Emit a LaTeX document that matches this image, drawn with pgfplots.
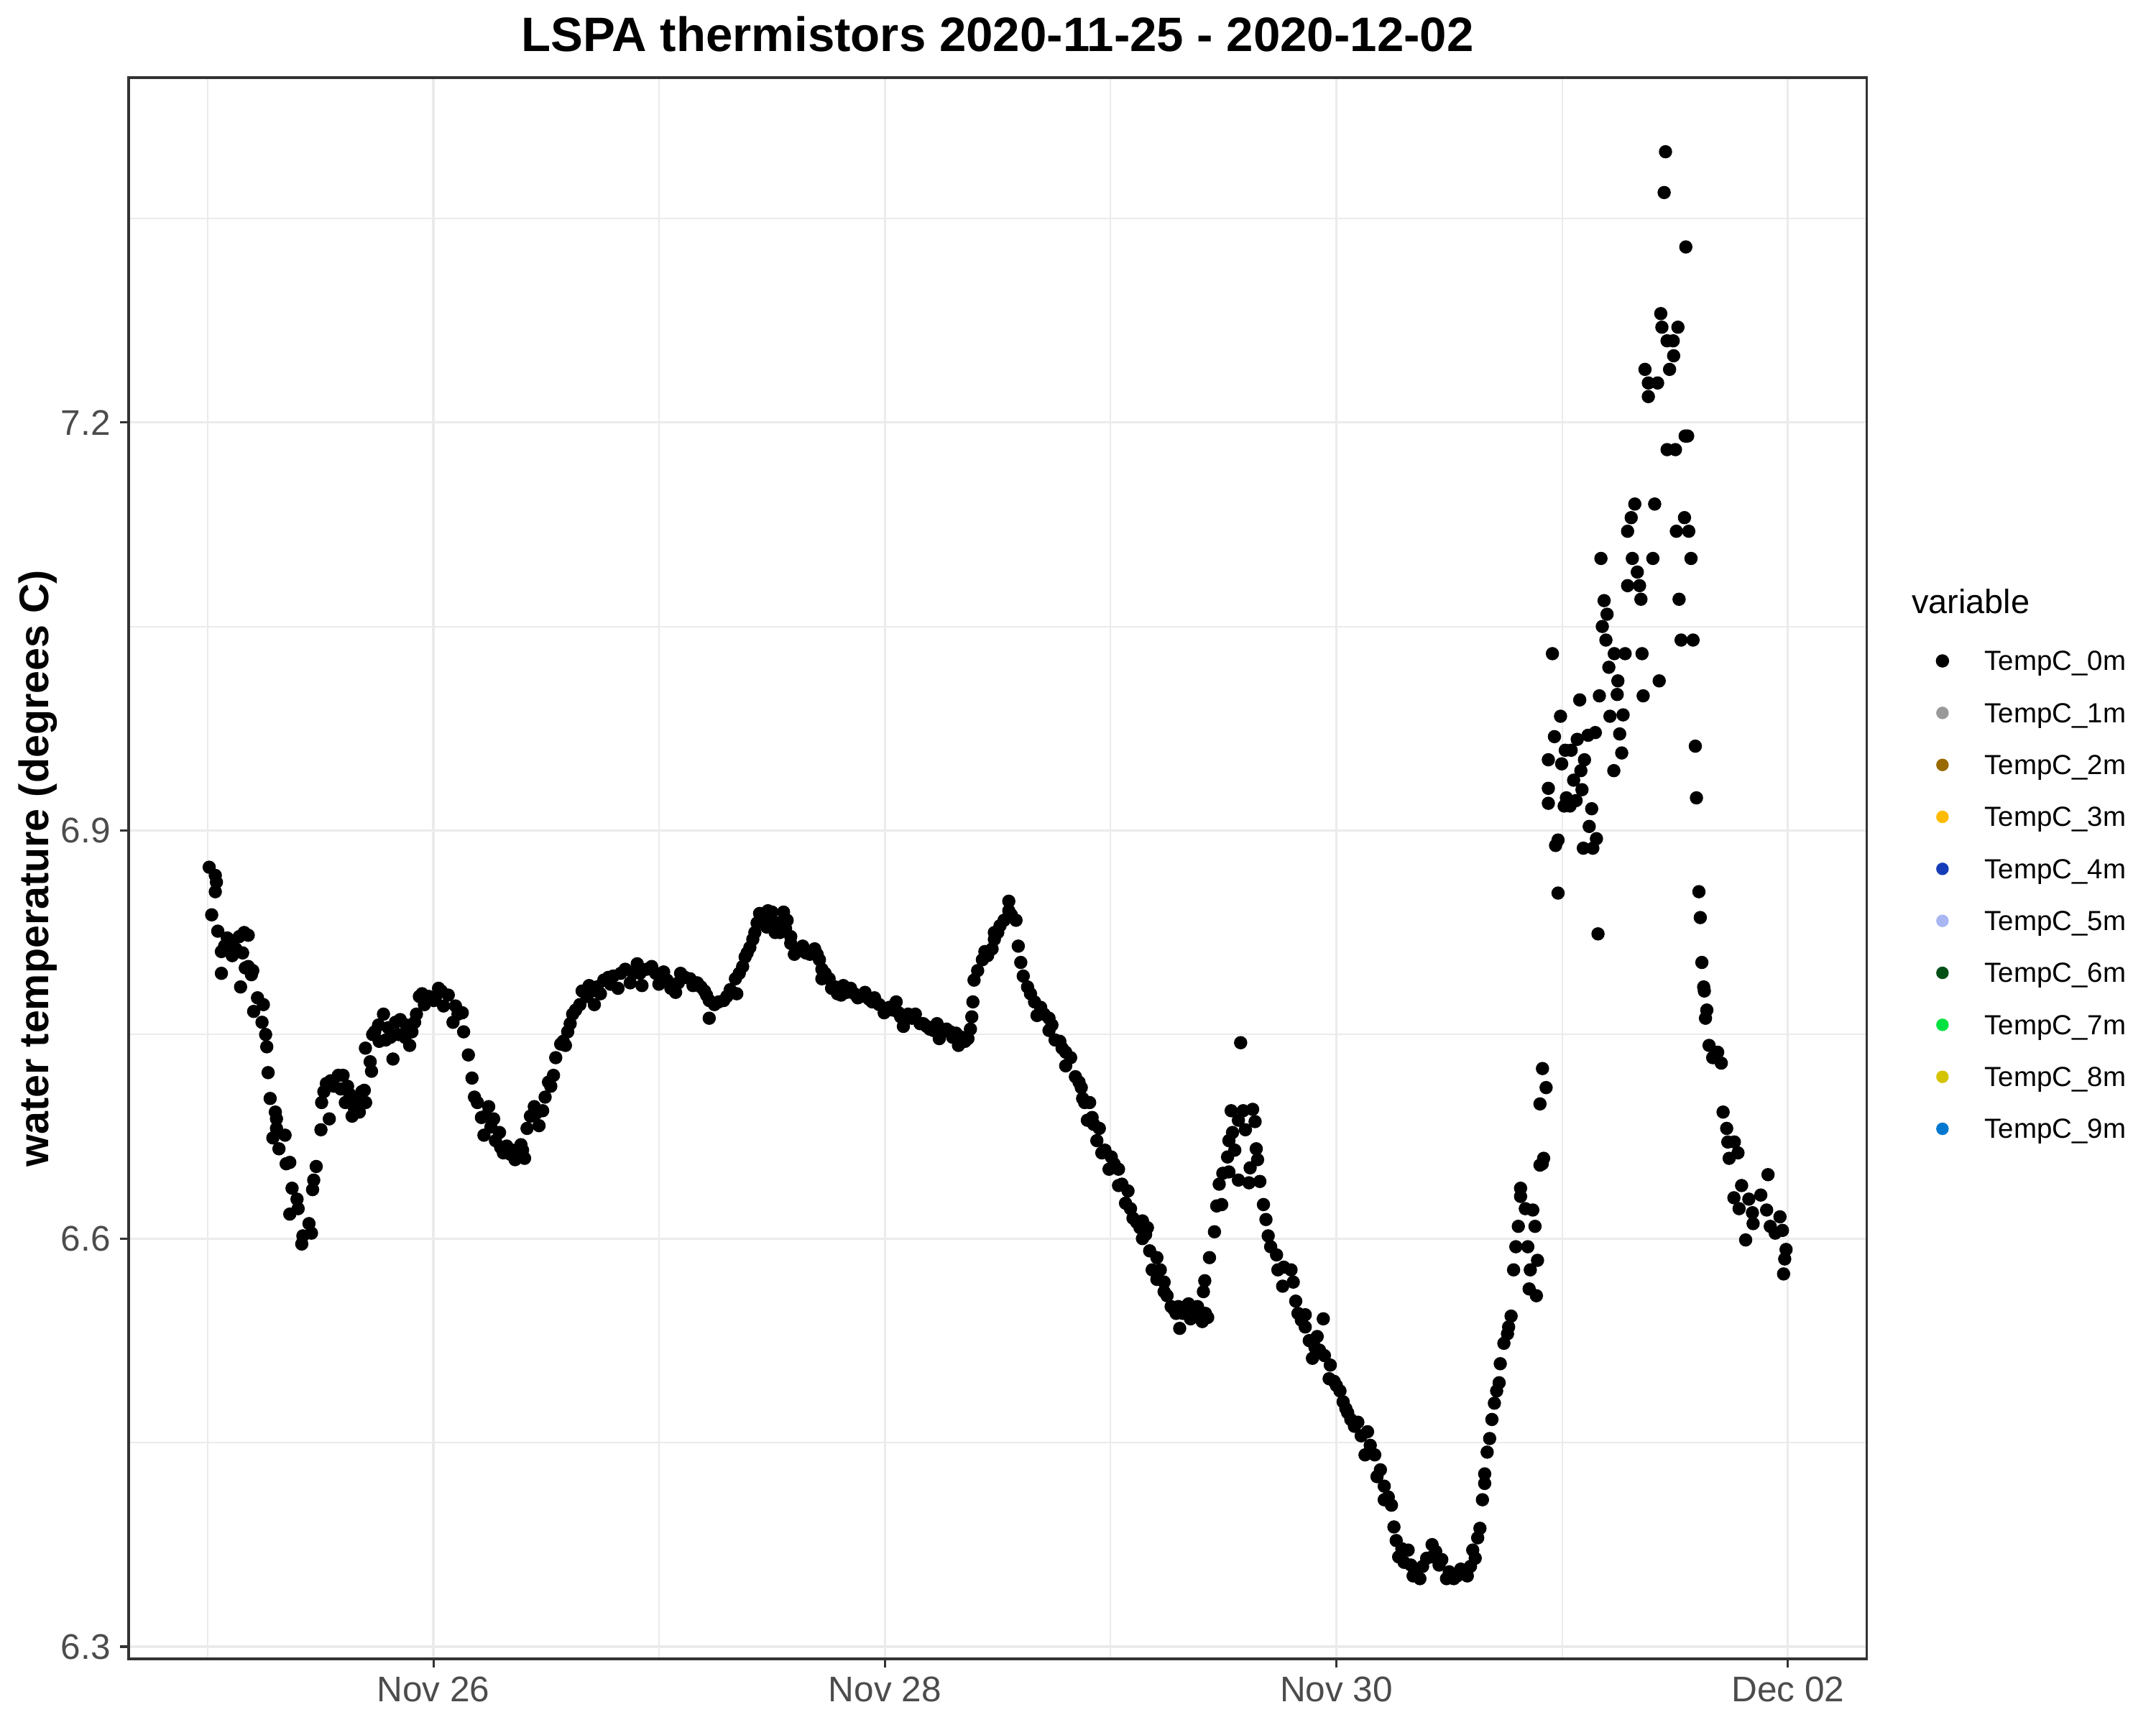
\documentclass[border=0pt]{standalone}
\usepackage{fontspec}
\setmainfont{Liberation Sans}
\usepackage{pgfplots}
\pgfplotsset{compat=1.18}
\usepackage{pgfplotstable}
\definecolor{gridc}{gray}{0.92}
\definecolor{axc}{gray}{0.2}
\definecolor{tickc}{gray}{0.3}
\definecolor{c1}{RGB}{153,153,153}
\definecolor{c2}{RGB}{153,106,0}
\definecolor{c3}{RGB}{255,187,0}
\definecolor{c4}{RGB}{22,61,184}
\definecolor{c5}{RGB}{168,182,242}
\definecolor{c6}{RGB}{0,80,24}
\definecolor{c7}{RGB}{0,226,64}
\definecolor{c8}{RGB}{212,196,0}
\definecolor{c9}{RGB}{0,120,208}
\pgfplotstableread{
d t
0.007 6.873
0.018 6.838
0.034 6.867
0.034 6.855
0.039 6.862
0.045 6.826
0.061 6.811
0.061 6.795
0.075 6.815
0.087 6.821
0.100 6.818
0.109 6.808
0.125 6.813
0.140 6.822
0.146 6.785
0.155 6.810
0.162 6.825
0.167 6.799
0.180 6.823
0.180 6.800
0.194 6.794
0.200 6.797
0.204 6.767
0.221 6.777
0.241 6.759
0.247 6.772
0.257 6.750
0.262 6.741
0.268 6.722
0.277 6.703
0.289 6.674
0.300 6.693
0.305 6.688
0.305 6.681
0.316 6.666
0.343 6.676
0.348 6.655
0.364 6.656
0.364 6.618
0.374 6.637
0.396 6.629
0.401 6.622
0.417 6.596
0.422 6.602
0.449 6.611
0.460 6.604
0.465 6.636
0.470 6.643
0.481 6.653
0.502 6.680
0.505 6.700
0.515 6.708
0.526 6.714
0.539 6.688
0.545 6.716
0.560 6.712
0.579 6.720
0.590 6.710
0.600 6.720
0.610 6.700
0.620 6.712
0.630 6.706
0.640 6.690
0.650 6.696
0.660 6.703
0.672 6.693
0.683 6.708
0.694 6.709
0.700 6.700
0.699 6.740
0.720 6.730
0.726 6.723
0.731 6.750
0.740 6.752
0.757 6.757
0.760 6.745
0.779 6.765
0.789 6.746
0.800 6.755
0.810 6.748
0.821 6.732
0.832 6.759
0.845 6.750
0.853 6.761
0.874 6.748
0.880 6.757
0.895 6.742
0.905 6.752
0.917 6.759
0.925 6.765
0.938 6.778
0.950 6.780
0.960 6.772
0.980 6.778
1.002 6.775
1.010 6.778
1.023 6.784
1.035 6.782
1.045 6.771
1.066 6.779
1.087 6.759
1.098 6.771
1.109 6.765
1.128 6.766
1.134 6.752
1.155 6.735
1.171 6.718
1.182 6.704
1.195 6.700
1.213 6.689
1.224 6.676
1.230 6.690
1.245 6.697
1.255 6.682
1.267 6.688
1.275 6.672
1.293 6.678
1.298 6.667
1.310 6.663
1.325 6.668
1.341 6.662
1.350 6.665
1.362 6.658
1.375 6.662
1.388 6.669
1.395 6.665
1.404 6.659
1.415 6.681
1.430 6.690
1.447 6.697
1.455 6.692
1.468 6.683
1.484 6.694
1.495 6.704
1.510 6.715
1.520 6.712
1.532 6.720
1.542 6.733
1.564 6.743
1.575 6.745
1.585 6.742
1.595 6.752
1.606 6.758
1.617 6.765
1.630 6.768
1.649 6.772
1.659 6.782
1.680 6.778
1.690 6.786
1.702 6.782
1.713 6.772
1.725 6.785
1.740 6.780
1.755 6.790
1.775 6.792
1.785 6.787
1.797 6.793
1.818 6.784
1.830 6.795
1.850 6.798
1.872 6.788
1.885 6.795
1.903 6.802
1.915 6.795
1.924 6.786
1.945 6.798
1.967 6.800
1.985 6.795
1.999 6.787
2.020 6.796
2.035 6.790
2.052 6.784
2.073 6.781
2.085 6.788
2.095 6.795
2.115 6.792
2.137 6.791
2.150 6.786
2.169 6.788
2.185 6.785
2.201 6.782
2.210 6.779
2.222 6.775
2.222 6.762
2.245 6.772
2.264 6.774
2.286 6.775
2.300 6.778
2.315 6.783
2.338 6.791
2.344 6.780
2.355 6.795
2.370 6.800
2.381 6.807
2.390 6.810
2.402 6.814
2.415 6.820
2.424 6.825
2.434 6.832
2.445 6.839
2.460 6.835
2.477 6.829
2.482 6.841
2.495 6.832
2.500 6.840
2.514 6.825
2.525 6.832
2.535 6.825
2.545 6.830
2.551 6.840
2.560 6.828
2.567 6.834
2.583 6.822
2.583 6.817
2.599 6.809
2.615 6.812
2.636 6.815
2.650 6.810
2.668 6.809
2.689 6.813
2.700 6.809
2.710 6.805
2.721 6.798
2.721 6.791
2.735 6.795
2.753 6.791
2.764 6.784
2.780 6.785
2.790 6.780
2.806 6.779
2.816 6.786
2.830 6.781
2.848 6.784
2.865 6.780
2.880 6.777
2.895 6.778
2.912 6.781
2.930 6.776
2.944 6.774
2.954 6.777
2.975 6.772
2.997 6.766
3.020 6.770
3.035 6.768
3.050 6.774
3.061 6.766
3.070 6.763
3.082 6.756
3.103 6.765
3.120 6.762
3.135 6.765
3.156 6.758
3.170 6.758
3.185 6.756
3.199 6.754
3.215 6.753
3.231 6.758
3.241 6.747
3.255 6.752
3.273 6.754
3.290 6.752
3.300 6.748
3.315 6.751
3.326 6.742
3.340 6.748
3.355 6.745
3.368 6.747
3.379 6.754
3.385 6.763
3.390 6.774
3.395 6.790
3.411 6.797
3.432 6.805
3.443 6.811
3.455 6.808
3.475 6.813
3.485 6.820
3.485 6.825
3.500 6.825
3.510 6.830
3.528 6.834
3.549 6.848
3.549 6.841
3.560 6.838
3.581 6.834
3.591 6.815
3.602 6.803
3.613 6.793
3.632 6.785
3.645 6.780
3.663 6.774
3.674 6.764
3.690 6.770
3.705 6.765
3.727 6.762
3.727 6.753
3.740 6.757
3.754 6.746
3.775 6.745
3.785 6.740
3.801 6.737
3.801 6.727
3.823 6.733
3.844 6.719
3.860 6.715
3.870 6.711
3.876 6.703
3.885 6.700
3.897 6.687
3.907 6.700
3.918 6.689
3.925 6.684
3.939 6.672
3.950 6.681
3.961 6.663
3.975 6.665
3.993 6.651
4.003 6.660
4.015 6.655
4.035 6.651
4.035 6.639
4.050 6.640
4.066 6.626
4.077 6.635
4.088 6.622
4.099 6.615
4.115 6.612
4.130 6.608
4.141 6.613
4.141 6.600
4.155 6.603
4.163 6.608
4.173 6.591
4.184 6.577
4.205 6.586
4.205 6.570
4.220 6.577
4.237 6.568
4.237 6.561
4.250 6.558
4.268 6.550
4.280 6.548
4.290 6.545
4.300 6.550
4.306 6.534
4.320 6.545
4.332 6.550
4.345 6.552
4.354 6.541
4.365 6.548
4.375 6.545
4.385 6.550
4.395 6.545
4.406 6.539
4.420 6.545
4.430 6.542
4.411 6.561
4.417 6.569
4.438 6.586
4.460 6.605
4.470 6.624
4.481 6.640
4.492 6.625
4.497 6.648
4.518 6.660
4.524 6.649
4.524 6.672
4.534 6.694
4.540 6.678
4.550 6.665
4.566 6.687
4.566 6.643
4.576 6.744
4.587 6.694
4.597 6.680
4.613 6.641
4.618 6.652
4.629 6.695
4.640 6.686
4.645 6.666
4.651 6.658
4.661 6.642
4.677 6.625
4.688 6.614
4.698 6.602
4.709 6.594
4.735 6.588
4.741 6.577
4.762 6.565
4.767 6.579
4.799 6.577
4.809 6.568
4.820 6.554
4.830 6.545
4.845 6.540
4.862 6.544
4.862 6.535
4.880 6.525
4.894 6.512
4.905 6.520
4.915 6.528
4.925 6.518
4.942 6.541
4.947 6.514
4.968 6.497
4.973 6.507
4.990 6.495
5.000 6.492
5.016 6.488
5.030 6.480
5.042 6.475
5.050 6.472
5.064 6.467
5.080 6.462
5.095 6.465
5.110 6.455
5.127 6.441
5.138 6.458
5.150 6.448
5.170 6.441
5.180 6.425
5.195 6.430
5.212 6.418
5.212 6.408
5.230 6.410
5.244 6.404
5.255 6.388
5.265 6.378
5.276 6.366
5.290 6.372
5.300 6.362
5.318 6.371
5.330 6.360
5.340 6.352
5.355 6.355
5.370 6.350
5.382 6.359
5.400 6.365
5.424 6.375
5.424 6.366
5.440 6.370
5.455 6.360
5.467 6.364
5.488 6.350
5.500 6.355
5.520 6.350
5.535 6.352
5.551 6.357
5.570 6.355
5.580 6.352
5.594 6.359
5.604 6.371
5.615 6.365
5.626 6.380
5.636 6.387
5.647 6.408
5.657 6.420
5.657 6.427
5.668 6.443
5.679 6.453
5.689 6.467
5.700 6.479
5.710 6.488
5.721 6.494
5.726 6.508
5.742 6.523
5.758 6.530
5.763 6.535
5.774 6.543
5.785 6.577
5.795 6.594
5.806 6.609
5.816 6.631
5.816 6.637
5.837 6.622
5.848 6.594
5.854 6.563
5.859 6.577
5.870 6.621
5.880 6.609
5.886 6.558
5.891 6.584
5.902 6.699
5.902 6.654
5.912 6.655
5.913 6.725
5.918 6.659
5.929 6.711
5.939 6.952
5.939 6.931
5.939 6.920
5.957 7.030
5.966 6.969
5.971 6.889
5.982 6.893
5.982 6.854
5.993 6.984
5.998 6.949
6.009 6.918
6.014 6.959
6.019 6.924
6.035 6.918
6.040 6.959
6.051 6.937
6.062 6.922
6.067 6.967
6.078 6.996
6.083 6.944
6.088 6.930
6.094 6.887
6.099 6.952
6.115 6.970
6.120 6.903
6.131 6.916
6.136 6.887
6.147 6.972
6.152 6.894
6.159 6.824
6.165 6.999
6.172 7.100
6.178 7.050
6.186 7.069
6.194 7.040
6.199 7.059
6.207 7.020
6.212 6.984
6.229 6.944
6.231 7.030
6.244 7.000
6.247 7.010
6.255 6.971
6.264 6.957
6.270 6.985
6.279 7.030
6.290 7.120
6.290 7.080
6.306 7.130
6.311 7.100
6.322 7.140
6.333 7.090
6.343 7.080
6.349 7.070
6.354 7.030
6.359 6.999
6.367 7.239
6.382 7.229
6.382 7.219
6.402 7.100
6.410 7.140
6.423 7.229
6.430 7.010
6.437 7.280
6.442 7.270
6.452 7.369
6.458 7.399
6.465 7.260
6.465 7.180
6.476 7.239
6.492 7.260
6.494 7.249
6.502 7.180
6.506 7.120
6.513 7.270
6.518 7.070
6.527 7.040
6.542 7.130
6.545 7.190
6.548 7.329
6.556 7.190
6.561 7.120
6.571 7.100
6.580 7.040
6.590 6.962
6.595 6.924
6.606 6.855
6.612 6.836
6.619 6.803
6.627 6.785
6.630 6.782
6.635 6.762
6.641 6.768
6.651 6.742
6.667 6.733
6.689 6.737
6.705 6.729
6.713 6.693
6.729 6.681
6.734 6.671
6.740 6.659
6.761 6.630
6.763 6.671
6.779 6.663
6.784 6.622
6.795 6.639
6.813 6.599
6.827 6.629
6.843 6.619
6.846 6.611
6.880 6.632
6.906 6.621
6.912 6.647
6.922 6.609
6.944 6.604
6.965 6.616
6.976 6.606
6.981 6.574
6.986 6.585
6.992 6.592
}\tempdata
\begin{document}
\begin{tikzpicture}
\useasboundingbox (0,0) rectangle (20cm,16cm);
\begin{axis}[
  at={(1.193cm,0.613cm)}, anchor=south west,
  scale only axis, width=16.125cm, height=14.667cm,
  xmin=-0.35, xmax=7.35, ymin=6.291, ymax=7.4535,
  xtick={1,3,5,7}, xticklabels={Nov 26,Nov 28,Nov 30,Dec 02},
  minor xtick={0,2,4,6},
  ytick={6.3,6.6,6.9,7.2}, yticklabels={6.3,6.6,6.9,7.2},
  minor ytick={6.45,6.75,7.05,7.35},
  grid=both,
  major grid style={draw=gridc, line width=0.65pt},
  minor grid style={draw=gridc, line width=0.35pt},
  axis line style={draw=axc, line width=0.62pt},
  tick align=outside, major tick length=2.3pt, minor tick length=0pt,
  tick style={draw=axc, line width=0.57pt},
  xtick pos=left, ytick pos=left,
  ticklabel style={font=\fontsize{9.4}{11}\selectfont, text=tickc},
  xticklabel style={inner sep=0pt, yshift=-2.3pt},
  yticklabel style={inner sep=0pt, xshift=-2.3pt},
  legend style={at={(1.0401,0.6371)}, anchor=north west, draw=none, fill=none,
    inner sep=0pt, outer sep=0pt, row sep=8.72pt, column sep=0.336cm,
    nodes={inner sep=0pt, text height=5pt, text depth=0pt},
    font=\fontsize{7.3}{8.6}\selectfont},
  legend cell align=left,
  legend image code/.code={\draw[mark repeat=2,mark phase=2,#1] plot coordinates {(-0.1cm,0pt)(0cm,0pt)(0.1cm,0pt)};},
]
\addplot[only marks, mark=*, mark size=1.55pt, mark options={draw=black, fill=black, line width=0.4pt}] table[x=d,y=t]{\tempdata};
\addlegendentry{TempC\_0m}
\addlegendimage{only marks, mark=*, mark size=1.45pt, color=c1}
\addlegendentry{TempC\_1m}
\addlegendimage{only marks, mark=*, mark size=1.45pt, color=c2}
\addlegendentry{TempC\_2m}
\addlegendimage{only marks, mark=*, mark size=1.45pt, color=c3}
\addlegendentry{TempC\_3m}
\addlegendimage{only marks, mark=*, mark size=1.45pt, color=c4}
\addlegendentry{TempC\_4m}
\addlegendimage{only marks, mark=*, mark size=1.45pt, color=c5}
\addlegendentry{TempC\_5m}
\addlegendimage{only marks, mark=*, mark size=1.45pt, color=c6}
\addlegendentry{TempC\_6m}
\addlegendimage{only marks, mark=*, mark size=1.45pt, color=c7}
\addlegendentry{TempC\_7m}
\addlegendimage{only marks, mark=*, mark size=1.45pt, color=c8}
\addlegendentry{TempC\_8m}
\addlegendimage{only marks, mark=*, mark size=1.45pt, color=c9}
\addlegendentry{TempC\_9m}
\end{axis}
\node[anchor=base, font=\fontsize{12.75}{15}\selectfont\bfseries] at (9.2555cm,15.52cm) {LSPA thermistors 2020-11-25 - 2020-12-02};
\node[anchor=base, rotate=90, font=\fontsize{10.9}{13}\selectfont\bfseries] at (0.447cm,7.9465cm) {water temperature (degrees C)};
\node[anchor=base west, font=\fontsize{8.9}{10}\selectfont] at (17.61cm,10.307cm) {variable};
\end{tikzpicture}
\end{document}
